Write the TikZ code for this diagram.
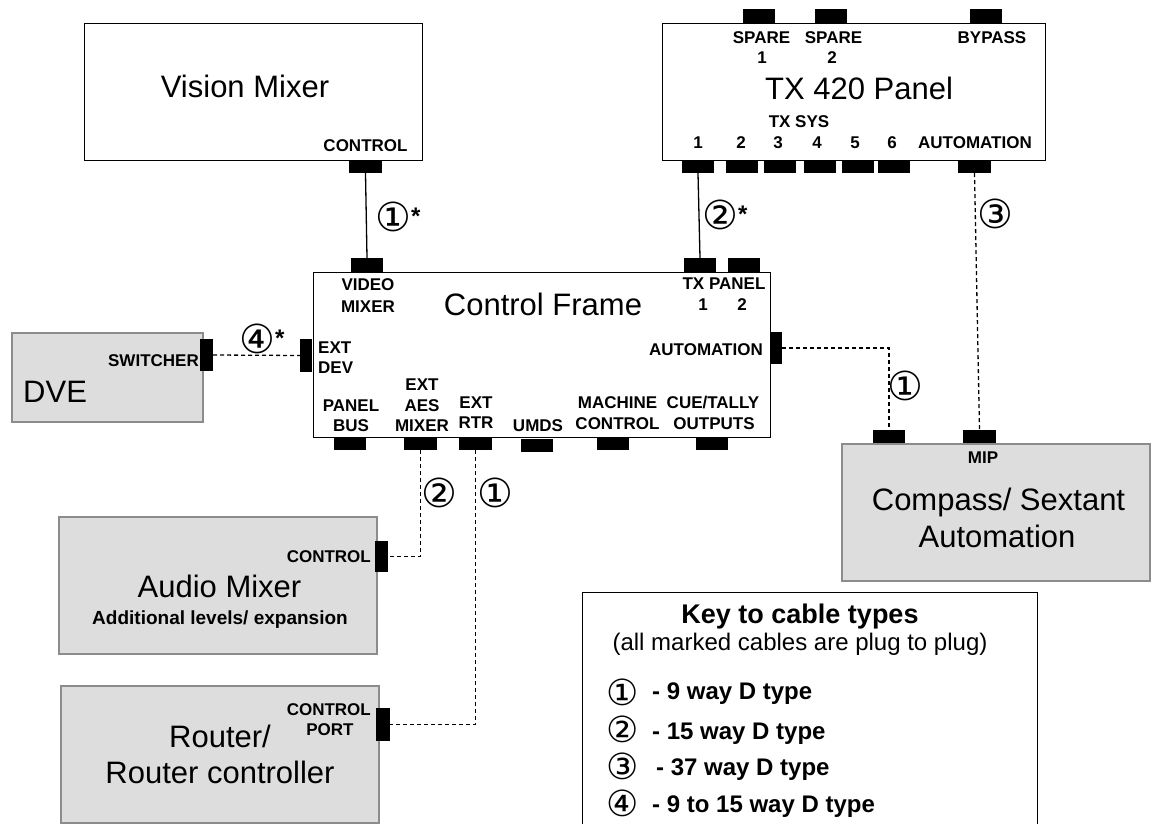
\documentclass[tikz,border=0pt]{standalone}
\usepackage{fontspec}
\setmainfont{Liberation Sans}
\newfontfamily\circfont{DejaVu Sans}
\definecolor{boxgray}{HTML}{DDDDDD}
\definecolor{bordergray}{HTML}{8C8C8C}
\newcommand{\lblfont}{\fontsize{17}{19}\selectfont\bfseries}
\newcommand{\ttlfont}{\fontsize{31}{34}\selectfont}
\newcommand{\astk}{{\rmfamily\bfseries\fontsize{24}{24}\selectfont\raisebox{7pt}{*}}}
\tikzset{
  wbox/.style={draw=black, line width=1.3pt, fill=white, inner sep=0, anchor=north west},
  gbox/.style={draw=bordergray, line width=1.6pt, fill=boxgray, inner sep=0, anchor=north west},
  conn/.style={fill=black, draw=none, inner sep=0},
  hconn/.style={conn, minimum width=32pt, minimum height=13pt},
  vconn/.style={conn, minimum width=13pt, minimum height=32pt},
  lbl/.style={font=\lblfont, inner sep=0, anchor=base},
  ttl/.style={font=\ttlfont, inner sep=0, anchor=base},
  cnum/.style={font=\circfont\fontsize{40}{40}\selectfont, inner sep=0},
  knum/.style={font=\circfont\fontsize{36}{36}\selectfont, inner sep=0},
  cable/.style={line width=1.3pt},
  dcable/.style={line width=1.3pt, dash pattern=on 4pt off 3pt},
  keyitem/.style={font=\fontsize{24}{26}\selectfont\bfseries, inner sep=0, anchor=base west}
}
\begin{document}
\begin{tikzpicture}[x=1pt, y=-1pt]
\useasboundingbox (0,0) rectangle (1151,824);
\fill[white] (0,0) rectangle (1151,824);

% ---------- boxes ----------
\node[wbox, minimum width=338pt, minimum height=137pt] (vm) at (84,23) {};
\node[wbox, minimum width=383pt, minimum height=137pt] (tx) at (662,23) {};
\node[wbox, minimum width=457pt, minimum height=165pt] (cf) at (313,272) {};
\node[gbox, minimum width=191pt, minimum height=89pt] (dve) at (11,332) {};
\node[gbox, minimum width=318pt, minimum height=137pt] (am) at (58,516) {};
\node[gbox, minimum width=318pt, minimum height=137pt] (rt) at (60,685) {};
\node[gbox, minimum width=308pt, minimum height=137pt] (cp) at (841,443) {};
\node[wbox, minimum width=455pt, minimum height=260pt] (key) at (582,592) {};

% ---------- connectors ----------
\node[hconn, minimum width=33pt] (vmc) at (365.5,166.5) {};
\node[hconn, minimum height=14pt] (cfvm) at (367,265) {};
\node[hconn, minimum height=14pt] (sp1) at (759,16) {};
\node[hconn, minimum height=14pt] (sp2) at (831,16) {};
\node[hconn, minimum height=14pt] (byp) at (986,16) {};
\node[hconn] (tx1) at (698,166.5) {};
\node[hconn] (tx2) at (742,166.5) {};
\node[hconn] (tx3) at (780,166.5) {};
\node[hconn] (tx4) at (819.5,166.5) {};
\node[hconn] (tx5) at (858,166.5) {};
\node[hconn] (tx6) at (894,166.5) {};
\node[hconn, minimum width=33pt] (txa) at (974.5,166.5) {};
\node[hconn, minimum height=14pt] (cft1) at (700,265) {};
\node[hconn, minimum height=14pt] (cft2) at (743.5,265) {};
\node[vconn, minimum width=12pt, minimum height=33pt] (cfdev) at (306,355.5) {};
\node[vconn, minimum width=12pt] (cfaut) at (776,348) {};
\node[hconn] (cfpb) at (350,443.5) {};
\node[hconn, minimum width=33pt] (cfaes) at (420.5,443.5) {};
\node[hconn, minimum width=33pt] (cfrtr) at (475.5,443.5) {};
\node[hconn] (cfumd) at (536.5,445.5) {};
\node[hconn] (cfmc) at (613,443.5) {};
\node[hconn] (cfcue) at (711.5,443.5) {};
\node[vconn] (dvec) at (206.5,355) {};
\node[vconn, minimum height=31pt] (amc) at (381.5,556.5) {};
\node[vconn, minimum width=14pt, minimum height=33pt] (rtc) at (383,724.5) {};
\node[hconn] (cpc) at (889,436.5) {};
\node[hconn, minimum width=33pt] (mipc) at (979.5,436.5) {};

% ---------- cables ----------
\draw[cable] (vmc.south) -- (cfvm.north);
\draw[cable] (tx1.south) -- (cft1.north);
\draw[dcable] (txa.south) -- (mipc.north);
\draw[dcable] (cfaut.east) -| (cpc.north);
\draw[dcable] (dvec.east) -- (cfdev.west);
\draw[dcable] (cfaes.south) |- (amc.east);
\draw[dcable] (cfrtr.south) |- (rtc.east);

% ---------- cable labels ----------
\node[cnum, anchor=west] (l1) at (375,217) {①\astk};
\node[cnum, anchor=west] (l2) at (702,215) {②\astk};
\node[cnum] (l3) at (995,214) {③};
\node[cnum, anchor=west] (l4) at (239,339) {④\astk};
\node[cnum] (l5) at (905,386) {①};
\node[cnum] (l6) at (439,493) {②};
\node[cnum] (l7) at (495,493) {①};

% ---------- Vision Mixer ----------
\node[ttl] (vmt) at (245,98) {Vision Mixer};
\node[lbl] (vml) at (365.5,152) {CONTROL};

% ---------- TX 420 Panel ----------
\node[lbl] (txs1) at (761.5,44) {SPARE};
\node[lbl] (txs1n) at (762,64) {1};
\node[lbl] (txs2) at (833.5,44) {SPARE};
\node[lbl] (txs2n) at (832,64) {2};
\node[lbl] (txbp) at (992,44) {BYPASS};
\node[ttl] (txt) at (859,100) {TX 420 Panel};
\node[lbl] (txsys) at (799,128) {TX SYS};
\node[lbl] (txn1) at (698,149) {1};
\node[lbl] (txn2) at (741,149) {2};
\node[lbl] (txn3) at (778,149) {3};
\node[lbl] (txn4) at (817,149) {4};
\node[lbl] (txn5) at (855,149) {5};
\node[lbl] (txn6) at (892,149) {6};
\node[lbl] (txau) at (975,149) {AUTOMATION};

% ---------- Control Frame ----------
\node[lbl] (cfv1) at (368,290) {VIDEO};
\node[lbl] (cfv2) at (368,312) {MIXER};
\node[ttl] (cft) at (543,315) {Control Frame};
\node[lbl] (cfp1) at (724,289) {TX PANEL};
\node[lbl] (cfp2) at (703,310) {1};
\node[lbl] (cfp3) at (742,310) {2};
\node[lbl, anchor=base west] (cfe1) at (318,353) {EXT};
\node[lbl, anchor=base west] (cfe2) at (318,373) {DEV};
\node[lbl, anchor=base east] (cfa) at (763,355) {AUTOMATION};
\node[lbl] (cfb1) at (351,411) {PANEL};
\node[lbl] (cfb2) at (351,431) {BUS};
\node[lbl] (cfx1) at (422,390) {EXT};
\node[lbl] (cfx2) at (422,411) {AES};
\node[lbl] (cfx3) at (422,431) {MIXER};
\node[lbl] (cfr1) at (476,408) {EXT};
\node[lbl] (cfr2) at (476,428) {RTR};
\node[lbl] (cfu) at (538,431) {UMDS};
\node[lbl] (cfm1) at (617.5,408) {MACHINE};
\node[lbl] (cfm2) at (617.5,429) {CONTROL};
\node[lbl] (cfc1) at (713,408) {CUE/TALLY};
\node[lbl] (cfc2) at (714,429) {OUTPUTS};

% ---------- DVE ----------
\node[lbl, anchor=base east] (dvel) at (199,366) {SWITCHER};
\node[ttl, anchor=base west] (dvet) at (23,402) {DVE};

% ---------- Audio Mixer ----------
\node[lbl, anchor=base east] (aml) at (371,562) {CONTROL};
\node[ttl] (amt) at (219.5,597) {Audio Mixer};
\node[font=\fontsize{19}{21}\selectfont\bfseries, inner sep=0, anchor=base] (ams) at (220,624) {Additional levels/ expansion};

% ---------- Router ----------
\node[lbl, anchor=base east] (rtl1) at (371,715) {CONTROL};
\node[lbl] (rtl2) at (330,735) {PORT};
\node[ttl] (rtt1) at (220,747) {Router/};
\node[ttl] (rtt2) at (220,783) {Router controller};

% ---------- Compass ----------
\node[lbl] (cpl) at (983,463) {MIP};
\node[ttl] (cpt1) at (998.5,510) {Compass/ Sextant};
\node[ttl] (cpt2) at (997,547) {Automation};

% ---------- Key ----------
\node[font=\fontsize{27}{29}\selectfont\bfseries, inner sep=0, anchor=base] (kt) at (800,623) {Key to cable types};
\node[font=\fontsize{24}{26}\selectfont, inner sep=0, anchor=base] (ks) at (800,650) {(all marked cables are plug to plug)};
\node[knum] (kc1) at (623,692) {①};
\node[knum] (kc2) at (623,729) {②};
\node[knum] (kc3) at (623,766) {③};
\node[knum] (kc4) at (623,803) {④};
\node[keyitem] (k1) at (652,699) {- 9 way D type};
\node[keyitem] (k2) at (652,739) {- 15 way D type};
\node[keyitem] (k3) at (656,775) {- 37 way D type};
\node[keyitem] (k4) at (652,812) {- 9 to 15 way D type};
\end{tikzpicture}
\end{document}
